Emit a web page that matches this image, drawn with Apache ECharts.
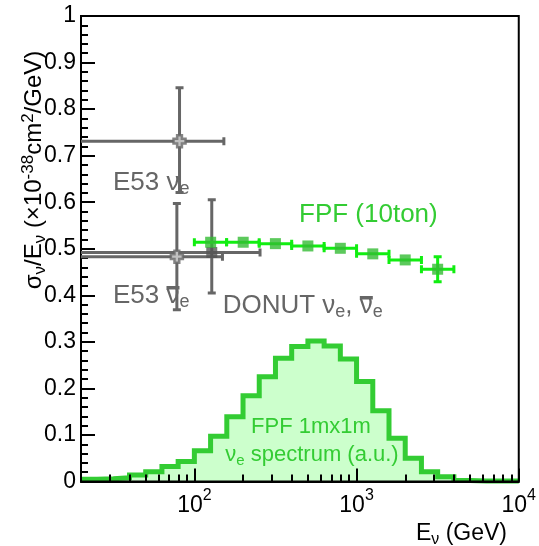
<!DOCTYPE html>
<html><head><meta charset="utf-8">
<script src="https://cdn.jsdelivr.net/npm/echarts@6/dist/echarts.min.js"></script>
<style>html,body{margin:0;padding:0;background:#fff}#c{width:539px;height:546px}</style>
</head><body><div id="c"></div>
<script>
// ---- FPF 1mx1m nu_e spectrum histogram (a.u.): lower bin edges in log10(E/GeV) ----
const specBinLog = [1.3,1.4,1.5,1.6,1.7,1.8,1.9,2.0,2.1,2.2,2.3,2.4,2.5,2.6,2.7,2.8,2.9,3.0,3.1,3.2,3.3,3.4,3.5,3.6,3.7,3.8,3.9];
const specLastEdgeLog = 4.0;
const specValues = [0.005,0.006,0.008,0.014,0.021,0.032,0.043,0.066,0.097,0.139,0.184,0.225,0.265,0.290,0.302,0.291,0.263,0.215,0.152,0.093,0.050,0.021,0.010,0.002,0.001,0.001,0.001];

// ---- FPF (10ton) projected measurement ----
const fpfE    = [126,200,316,501,794,1259,1995,3162];
const fpfELo  = [100,158,251,398,631,1000,1585,2512];
const fpfEHi  = [158,251,398,631,1000,1585,2512,3981];
const fpfSigma= [0.514,0.514,0.511,0.506,0.501,0.489,0.476,0.456];
const fpfErr  = [0.004,0.004,0.004,0.004,0.004,0.005,0.006,0.027];

// ---- existing measurements: E53 nu_e, E53 nubar_e, DONUT ----
const expE       = [81,78,128];
const expELo     = [10,10,10];
const expEHi     = [152,149,254];
const expSigma   = [0.731,0.483,0.492];
const expSigmaLo = [0.621,0.369,0.405];
const expSigmaHi = [0.846,0.597,0.605];

// ---- axes ----
const xMin = 20, xMax = 10000;
const xMajorTicks = [100,1000,10000];
const xMinorTicks = [30,40,50,60,70,80,90,200,300,400,500,600,700,800,900,2000,3000,4000,5000,6000,7000,8000,9000];
const yMin = 0, yMax = 1, yStep = 0.1;

const FONT = "'Liberation Sans', Arial, Helvetica, sans-serif";
const GRAY = '#666666';
const GREEN = '#33cc33';

const histData = specBinLog.map((l,i)=>[Math.pow(10,l), specValues[i]]);
histData.push([Math.pow(10,specLastEdgeLog), specValues[specValues.length-1]]);

const fpfData = fpfE.map((e,i)=>[e, fpfSigma[i], fpfELo[i], fpfEHi[i], fpfSigma[i]-fpfErr[i], fpfSigma[i]+fpfErr[i]]);
const expData = expE.map((e,i)=>[e, expSigma[i], expELo[i], expEHi[i], expSigmaLo[i], expSigmaHi[i]]);

function errRender(color, width, cap) {
  return function(params, api) {
    const x = api.value(0), y = api.value(1);
    const c = api.coord([x,y]);
    const pl = api.coord([api.value(2), y]), ph = api.coord([api.value(3), y]);
    const pyl = api.coord([x, api.value(4)]), pyh = api.coord([x, api.value(5)]);
    const st = {stroke: color, lineWidth: width, fill: null};
    const ch = [];
    ch.push({type:'line', shape:{x1:pl[0],y1:c[1],x2:ph[0],y2:c[1]}, style:st});
    ch.push({type:'line', shape:{x1:pl[0],y1:c[1]-cap,x2:pl[0],y2:c[1]+cap}, style:st});
    ch.push({type:'line', shape:{x1:ph[0],y1:c[1]-cap,x2:ph[0],y2:c[1]+cap}, style:st});
    if (Math.abs(pyl[1]-pyh[1]) > 14) {
      ch.push({type:'line', shape:{x1:c[0],y1:pyl[1],x2:c[0],y2:pyh[1]}, style:st});
      ch.push({type:'line', shape:{x1:c[0]-cap,y1:pyl[1],x2:c[0]+cap,y2:pyl[1]}, style:st});
      ch.push({type:'line', shape:{x1:c[0]-cap,y1:pyh[1],x2:c[0]+cap,y2:pyh[1]}, style:st});
    }
    return {type:'group', children: ch};
  };
}

function richFor(color, size) {
  const ss = Math.round(size*0.7);
  return {
    m: {fontSize: size, fontFamily: FONT, fill: color},
    s: {fontSize: ss, fontFamily: FONT, fill: color, verticalAlign: 'bottom', padding: [12,0,0,0]},
    p: {fontSize: ss, fontFamily: FONT, fill: color, verticalAlign: 'top', padding: [0,0,12,0]}
  };
}
function txt(x, y, text, color, size, align, rot) {
  return {type:'text', x:x, y:y, rotation: rot || 0, z: 50,
    style:{text:text, rich: richFor(color, size), fill: color, font: size+'px '+FONT, align: align, verticalAlign:'middle'}};
}
// measure text widths to place the anti-neutrino overbars
const mctx = document.createElement('canvas').getContext('2d');
function tw(s, size) { mctx.font = size + 'px ' + FONT; return mctx.measureText(s).width; }
const ANN = 26, ANNS = Math.round(ANN*0.7);
function overbar(x, yMid, size) {
  return {type:'rect', z: 50, shape:{x: x, y: yMid - 10, width: tw('ν', size), height: 3.5}, style:{fill: GRAY}};
}
const e53barY = 296, donutY = 306;
const bar1X = 113 + tw('E53 ', ANN);
const bar2X = 222.7 + tw('DONUT ν', ANN) + tw('e', ANNS) + tw(', ', ANN);

const chart = echarts.init(document.getElementById('c'), null, {renderer:'canvas'});
chart.setOption({
  animation: false,
  backgroundColor: '#fff',
  grid: {left: 81, right: 17, top: 16, bottom: 64.5, show: true, borderColor: '#000', borderWidth: 2, backgroundColor: 'transparent', z: 5},
  xAxis: [{
    type: 'log', min: xMin, max: xMax, z: 5,
    axisLine: {show: true, lineStyle: {color: '#000', width: 2}},
    axisTick: {show: true, inside: true, length: 13, customValues: xMajorTicks, lineStyle: {color: '#000', width: 2}},
    axisLabel: {show: true, margin: 6, customValues: xMajorTicks,
      formatter: v => '{n|10}{s|' + Math.round(Math.log10(v)) + '}',
      rich: {
        n: {fontSize: 23, fontFamily: FONT, color: '#000', verticalAlign: 'bottom'},
        s: {fontSize: 16, fontFamily: FONT, color: '#000', verticalAlign: 'top', padding: [0,0,14,0]}
      }},
    splitLine: {show: false}
  }, {
    type: 'log', min: xMin, max: xMax, position: 'bottom', z: 5,
    axisLine: {show: false},
    axisTick: {show: true, inside: true, length: 7, customValues: xMinorTicks, lineStyle: {color: '#000', width: 2}},
    axisLabel: {show: false},
    splitLine: {show: false}
  }],
  yAxis: {
    type: 'value', min: yMin, max: yMax, interval: yStep, z: 5,
    axisLine: {show: true, lineStyle: {color: '#000', width: 2}},
    axisTick: {show: true, inside: true, length: 14, lineStyle: {color: '#000', width: 2}},
    minorTick: {show: true, splitNumber: 5, length: 7, lineStyle: {color: '#000', width: 2}},
    axisLabel: {show: true, margin: 5, fontSize: 23, fontFamily: FONT, color: '#000'},
    splitLine: {show: false}
  },
  series: [{
    type: 'line', step: 'end', data: histData, xAxisIndex: 0, symbol: 'none', z: 1,
    lineStyle: {color: GREEN, width: 5, join: 'miter'},
    areaStyle: {color: '#ccffcc', opacity: 1}
  }, {
    type: 'custom', xAxisIndex: 0, clip: true, z: 6, data: expData,
    encode: {x: 0, y: 1},
    renderItem: errRender(GRAY, 3, 4)
  }, {
    type: 'scatter', xAxisIndex: 0, z: 7, data: expData.slice(0,2).map(d=>[d[0],d[1]]),
    symbol: 'path://M3,0 L7,0 L7,3 L10,3 L10,7 L7,7 L7,10 L3,10 L3,7 L0,7 L0,3 L3,3 Z',
    symbolSize: 12, itemStyle: {color: '#d8d8d8', borderColor: GRAY, borderWidth: 2.5}
  }, {
    type: 'scatter', xAxisIndex: 0, z: 7, data: expData.slice(2).map(d=>[d[0],d[1]]),
    symbol: 'rect', symbolSize: 11, itemStyle: {color: '#555555'}
  }, {
    type: 'custom', xAxisIndex: 0, clip: true, z: 8, data: fpfData,
    encode: {x: 0, y: 1},
    renderItem: errRender('#11ee11', 3, 4)
  }, {
    type: 'scatter', xAxisIndex: 0, z: 9, data: fpfData.map(d=>[d[0],d[1]]),
    symbol: 'rect', symbolSize: 11, itemStyle: {color: '#33bb33'}
  }],
  graphic: [
    txt(34, 170, '{m|σ}{s|ν}{m|/E}{s|ν}{m| (×10}{p|-38}{m|cm}{p|2}{m|/GeV)}', '#000', 24, 'center', Math.PI/2),
    txt(507, 534, '{m|E}{s|ν}{m| (GeV)}', '#000', 23, 'right'),
    txt(113, 182.7, '{m|E53 ν}{s|e}', GRAY, ANN, 'left'),
    txt(113, e53barY, '{m|E53 ν}{s|e}', GRAY, ANN, 'left'),
    overbar(bar1X, e53barY, ANN),
    txt(222.7, donutY, '{m|DONUT ν}{s|e}{m|, ν}{s|e}', GRAY, ANN, 'left'),
    overbar(bar2X, donutY, ANN),
    txt(299, 215, '{m|FPF (10ton)}', GREEN, ANN, 'left'),
    txt(311, 427.3, '{m|FPF 1mx1m}', GREEN, 22, 'center'),
    txt(312, 455.3, '{m|ν}{s|e}{m| spectrum (a.u.)}', GREEN, 22, 'center')
  ]
});
</script></body></html>
